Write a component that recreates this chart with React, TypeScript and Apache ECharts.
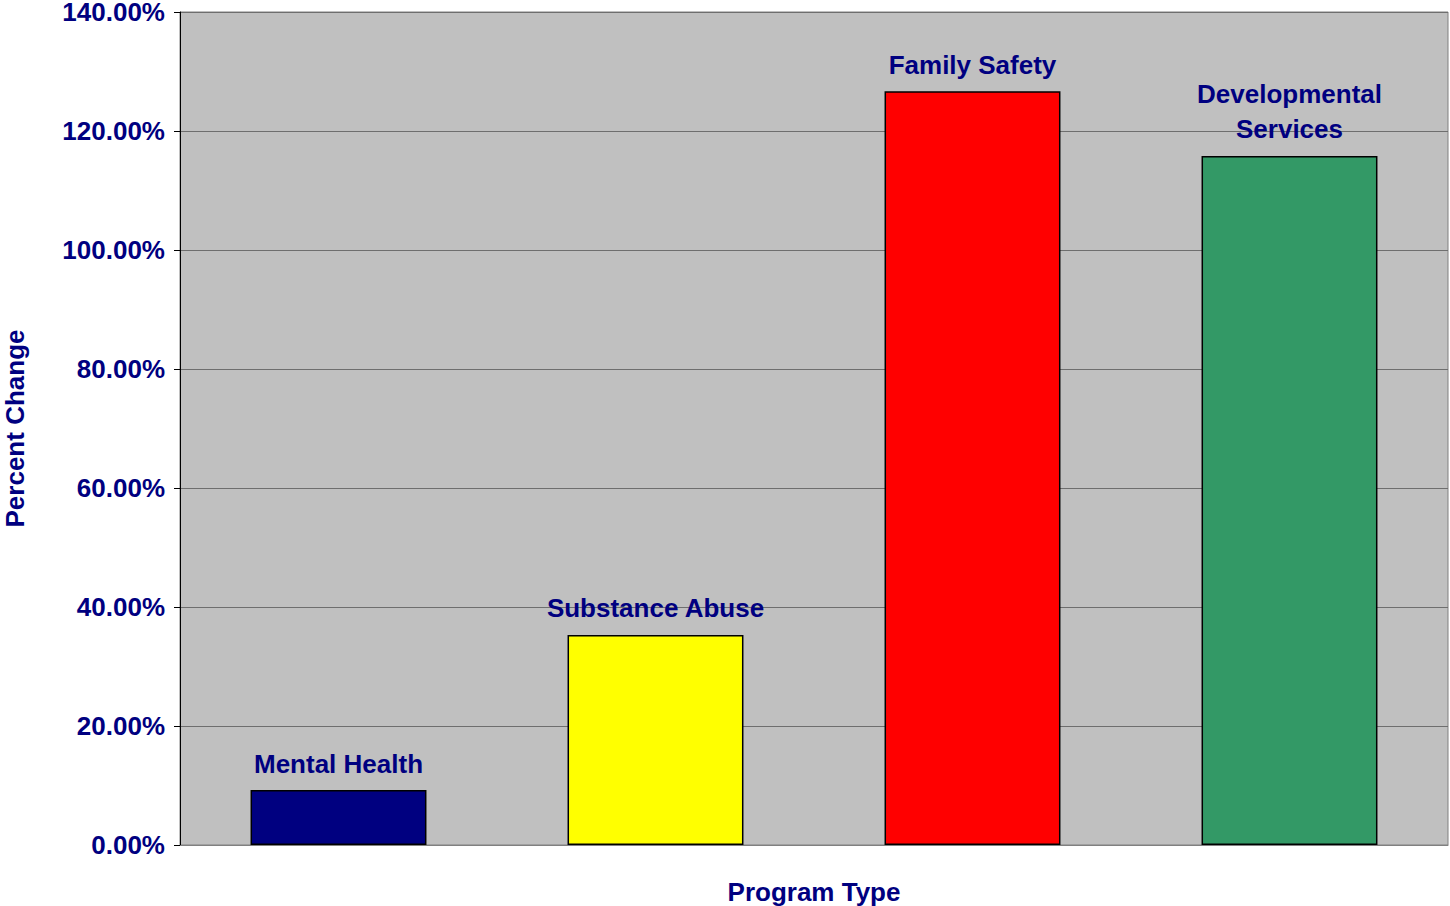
import React, { useEffect, useRef } from "react";
import * as echarts from "echarts";

const categories = ["Mental Health", "Substance Abuse", "Family Safety", "Developmental\nServices"];
const values = [9.24, 35.3, 126.7, 115.8];
const barColors = ["#000080", "#FFFF00", "#FF0000", "#339966"];

export default function App() {
  const ref = useRef<HTMLDivElement>(null);
  useEffect(() => {
    if (!ref.current) return;
    const chart = echarts.init(ref.current, undefined, { renderer: "svg" });
    const font = "Arial, 'Liberation Sans', sans-serif";
    chart.setOption({
      animation: false,
      grid: {
        left: 180,
        top: 12,
        width: 1268,
        height: 833,
        containLabel: false,
        outerBoundsMode: "none",
        show: true,
        backgroundColor: "#C0C0C0",
        borderColor: "#808080",
        borderWidth: 1,
      },
      xAxis: {
        type: "category",
        data: categories,
        name: "Program Type",
        nameLocation: "middle",
        nameGap: 34,
        nameTextStyle: { fontFamily: font, fontWeight: "bold", fontSize: 26, color: "#000080" },
        axisLine: { lineStyle: { color: "#808080", width: 1 } },
        axisTick: { show: false },
        axisLabel: { show: false },
      },
      yAxis: {
        type: "value",
        min: 0,
        max: 140,
        interval: 20,
        name: "Percent Change",
        nameLocation: "middle",
        nameGap: 152,
        nameRotate: 90,
        nameTextStyle: { fontFamily: font, fontWeight: "bold", fontSize: 26, color: "#000080" },
        axisLine: { show: true, lineStyle: { color: "#000000", width: 1 } },
        axisTick: { show: true, length: 6, lineStyle: { color: "#000000" } },
        axisLabel: {
          margin: 15,
          fontFamily: font,
          fontWeight: "bold",
          fontSize: 26,
          lineHeight: 22,
          color: "#000080",
          formatter: (v: number) => v.toFixed(2) + "%",
        },
        splitLine: { show: true, lineStyle: { color: "#6E6E6E", width: 1 } },
      },
      series: [
        {
          type: "bar",
          barCategoryGap: "44.5%",
          data: values.map((v, i) => ({ value: v, itemStyle: { color: barColors[i] } })),
          itemStyle: { borderColor: "#000000", borderWidth: 1.5 },
          label: {
            show: true,
            position: "top",
            distance: 9,
            fontFamily: font,
            fontWeight: "bold",
            fontSize: 26,
            lineHeight: 35,
            color: "#000080",
            formatter: (p: any) => categories[p.dataIndex],
          },
        },
      ],
    });
    return () => chart.dispose();
  }, []);
  return (
    <div
      ref={ref}
      style={{ position: "absolute", left: 0, top: 0, width: 1450, height: 906 }}
    />
  );
}
